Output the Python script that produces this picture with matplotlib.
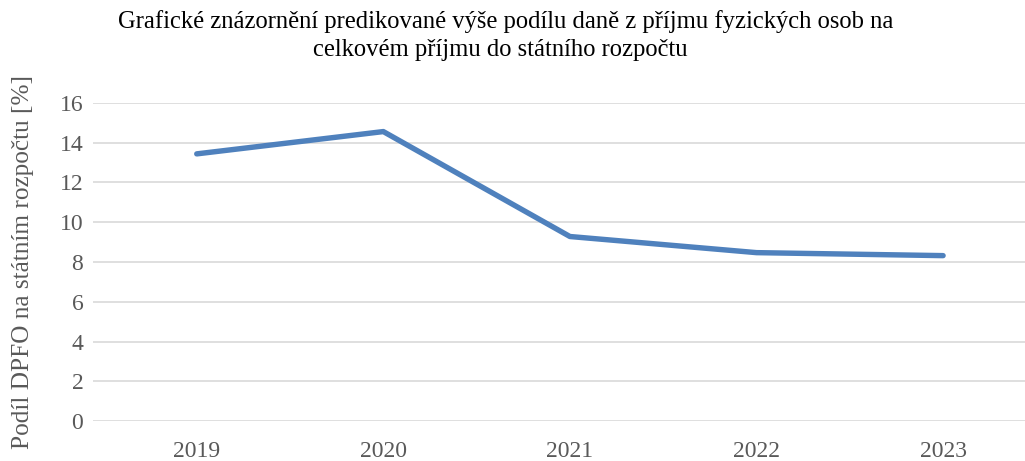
import matplotlib
matplotlib.use("Agg")
import matplotlib.pyplot as plt

years = ["2019", "2020", "2021", "2022", "2023"]
share = [13.43, 14.55, 9.28, 8.47, 8.32]
yticks = [0, 2, 4, 6, 8, 10, 12, 14, 16]

plt.rcParams['font.family'] = ['Liberation Serif', 'DejaVu Serif']

W, H = 1025, 461
fig = plt.figure(figsize=(W / 100, H / 100), dpi=100)
left, right = 93 / W, 1.0
bottom, top = 1 - 421.3 / H, 1 - 102.7 / H
ax = fig.add_axes([left, bottom, right - left, top - bottom])

x = list(range(len(years)))
ax.plot(x, share, color="#4F81BD", linewidth=3.9, solid_capstyle="round",
        solid_joinstyle="round", zorder=3)

ax.set_xlim(-0.556, 4.439)
ax.set_ylim(0, 16)
ax.set_yticks(yticks)
ax.set_yticklabels([str(v) for v in yticks])
ax.set_xticks(x)
ax.set_xticklabels(years)
ax.grid(axis="y", color="#D9D9D9", linewidth=1.2)
ax.set_axisbelow(True)
for s in ax.spines.values():
    s.set_visible(False)
ax.tick_params(axis="both", length=0, labelsize=17, labelcolor="#595959")
ax.tick_params(axis="y", pad=7)
ax.tick_params(axis="x", pad=14)

fig.text(23 / W, 1 - 262 / H, "Podíl DPFO na státním rozpočtu [%]", rotation=90,
         ha="center", va="center", fontsize=18.2, color="#595959")

fig.text(506 / W, 1 - 22 / H,
         "Grafické znázornění predikované výše podílu daně z příjmu fyzických osob na",
         ha="center", va="center", fontsize=17.7, color="black")
fig.text(500 / W, 1 - 50 / H, "celkovém příjmu do státního rozpočtu",
         ha="center", va="center", fontsize=17.7, color="black")

fig.savefig("out.png", dpi=100)
